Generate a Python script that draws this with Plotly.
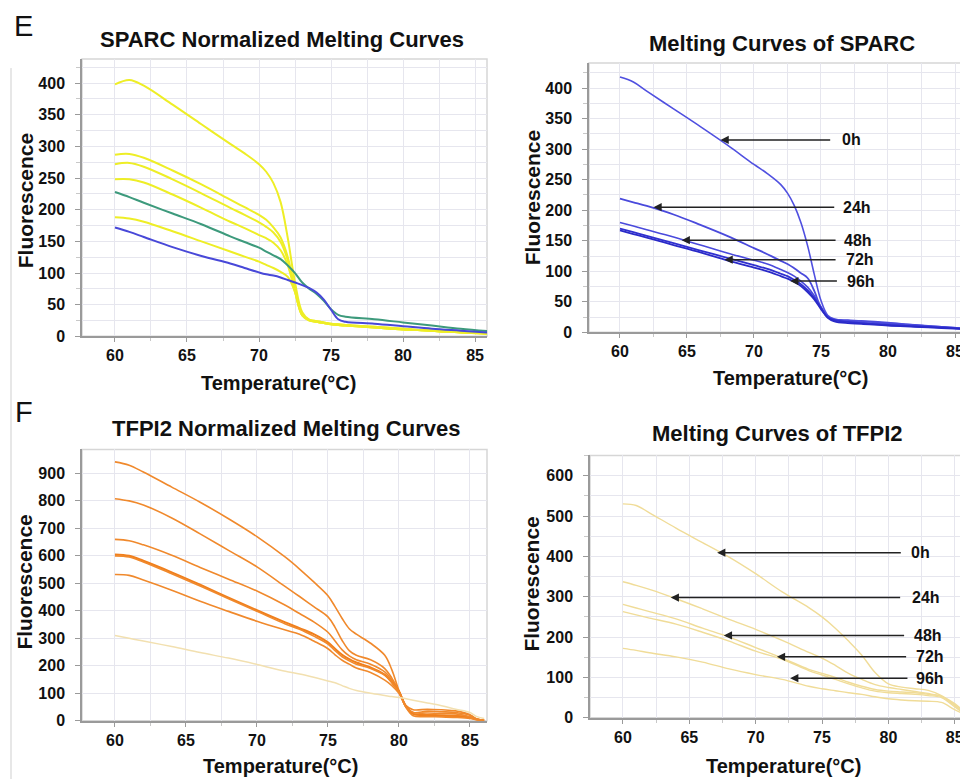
import plotly.graph_objects as go

W, H = 968, 780
# the page shows the figure 8px in and slightly shrunk vertically; place everything
# in window pixels and undo that offset/scale
OFF, SX, SY = 8, 1.0, 0.9874

# ---- E: SPARC normalized melting curves ----
sparc_norm_temp = [60, 61, 62, 64, 66, 68, 69, 70, 70.5, 71, 71.5, 72, 72.5, 73, 73.5, 74, 74.5, 75, 75.5, 76, 78, 80, 82, 84, 86]
sparc_norm_y1 = [398, 405, 396, 366, 335, 304, 289, 272, 260, 242, 212, 155, 85, 38, 26, 23, 21, 19, 18, 17, 14, 11, 9, 6, 4]
sparc_norm_y2 = [287, 288, 282, 262, 240, 216, 204, 192, 184, 172, 156, 125, 75, 35, 26, 24, 22, 20, 19, 18, 15, 12, 9, 7, 5]
sparc_norm_y3 = [272, 274, 268, 248, 226, 203, 192, 180, 173, 164, 149, 120, 72, 34, 26, 24, 22, 20, 19, 18, 15, 12, 9, 7, 5]
sparc_norm_y4 = [248, 248, 243, 224, 203, 181, 171, 160, 155, 148, 136, 112, 70, 33, 25, 23, 21, 19, 18, 17, 14, 11, 9, 6, 4]
sparc_norm_y5 = [188, 186, 181, 166, 150, 134, 126, 118, 113, 108, 102, 94, 70, 33, 25, 23, 21, 19, 18, 17, 14, 11, 9, 6, 4]
sparc_norm_green = [228, 220, 211, 194, 177, 158, 149, 140, 134, 128, 122, 112, 100, 85, 75, 67, 56, 43, 34, 31, 27, 22, 17, 12, 8]
sparc_norm_blue = [172, 165, 157, 141, 127, 115, 108, 101, 98, 96, 93, 89, 85, 81, 76, 69, 58, 42, 27, 23, 20, 16, 12, 9, 6]

# ---- E: melting curves of SPARC (time points) ----
sparc_temp = [60, 61, 62, 64, 66, 68, 70, 71, 72, 72.5, 73, 73.5, 74, 74.5, 75, 75.5, 76, 77, 78, 80, 82, 84, 86]
sparc_0h = [418, 410, 395, 366, 337, 307, 275, 260, 242, 228, 208, 180, 142, 95, 52, 28, 22, 20, 19, 16, 12, 9, 6]
sparc_24h = [219, 213, 207, 193, 176, 158, 138, 128, 117, 112, 105, 97, 89, 68, 40, 25, 21, 19, 18, 15, 12, 9, 6]
sparc_48h = [180, 174, 168, 156, 143, 130, 118, 112, 103, 98, 92, 84, 74, 60, 42, 26, 21, 18, 16, 13, 11, 8, 5]
sparc_72h = [170, 164, 158, 146, 134, 122, 110, 104, 96, 92, 86, 79, 69, 56, 40, 25, 20, 17, 15, 12, 10, 8, 5]
sparc_96h = [167, 161, 155, 143, 131, 118, 106, 100, 92, 88, 83, 76, 66, 54, 38, 24, 18, 15, 14, 11, 9, 7, 5]

# ---- F: TFPI2 normalized melting curves ----
tfpi_norm_temp = [60, 61, 62, 64, 66, 68, 70, 72, 73, 74, 75, 75.5, 76, 76.5, 77, 78, 79, 79.5, 80, 80.5, 81, 82, 83, 84, 85, 85.5, 86]
tfpi_norm_c1 = [942, 930, 905, 850, 795, 735, 670, 595, 552, 505, 455, 415, 372, 335, 315, 282, 238, 185, 110, 50, 25, 22, 21, 19, 14, 5, 2]
tfpi_norm_c2 = [808, 800, 785, 738, 680, 620, 560, 488, 452, 415, 378, 340, 292, 255, 238, 222, 190, 155, 108, 52, 30, 35, 33, 30, 20, 6, 2]
tfpi_norm_c3 = [660, 655, 640, 602, 558, 515, 472, 420, 390, 360, 322, 290, 258, 236, 222, 206, 178, 148, 108, 55, 40, 42, 40, 36, 22, 6, 2]
tfpi_norm_c4 = [605, 600, 582, 540, 495, 448, 402, 358, 337, 315, 285, 262, 240, 224, 212, 194, 168, 140, 106, 52, 25, 20, 18, 16, 12, 4, 2]
tfpi_norm_c5 = [600, 596, 578, 535, 490, 444, 398, 352, 333, 308, 279, 255, 233, 218, 206, 190, 165, 138, 105, 50, 30, 28, 27, 25, 15, 5, 2]
tfpi_norm_c6 = [532, 529, 512, 475, 435, 398, 362, 330, 315, 290, 262, 240, 220, 206, 192, 176, 148, 128, 100, 48, 18, 15, 14, 12, 8, 3, 1]
tfpi_norm_c7 = [310, 300, 290, 270, 248, 228, 205, 180, 170, 158, 145, 138, 128, 118, 110, 100, 92, 88, 85, 80, 75, 65, 55, 42, 30, 15, 8]

# ---- F: melting curves of TFPI2 (time points) ----
tfpi_temp = [60, 61, 62, 64, 66, 68, 70, 72, 74, 75, 76, 77, 78, 79, 80, 81, 82, 83, 84, 85, 86]
tfpi_0h = [530, 526, 508, 470, 434, 398, 357, 312, 273, 250, 222, 190, 155, 112, 84, 76, 72, 68, 55, 32, 5]
tfpi_24h = [337, 328, 318, 295, 270, 244, 219, 192, 162, 148, 130, 110, 95, 82, 75, 70, 65, 60, 53, 35, 5]
tfpi_48h = [281, 272, 263, 245, 222, 200, 174, 148, 120, 110, 100, 88, 78, 70, 66, 64, 62, 58, 53, 30, 5]
tfpi_72h = [263, 255, 247, 232, 212, 190, 165, 145, 117, 106, 95, 84, 74, 66, 62, 60, 58, 55, 50, 27, 4]
tfpi_96h = [172, 167, 161, 151, 138, 121, 107, 95, 78, 72, 67, 62, 58, 52, 47, 44, 42, 41, 38, 20, 4]

# arrow labels (head x, head y, tail x, text x)
time_labels = ["0h", "24h", "48h", "72h", "96h"]
sparc_head_x = [67.5, 62.5, 64.6, 67.8, 72.7]
sparc_head_y = [315, 205, 151, 119, 84]
sparc_tail_x = [75.8, 76.1, 76.2, 76.2, 76.3]
sparc_text_x = [76.45, 76.5, 76.6, 76.7, 76.8]
tfpi_head_x = [67.1, 63.6, 67.6, 71.6, 72.6]
tfpi_head_y = [409, 298, 204, 151, 98]
tfpi_tail_x = [81.05, 81.0, 81.3, 81.45, 81.55]
tfpi_text_x = [81.55, 81.6, 81.75, 81.9, 81.95]

FONT = "Liberation Sans, Arial, sans-serif"
GRID = "#e6e6ee"
AXIS = "#9a9a9a"


def fx(p):
    return min(1, max(0, (p - OFF) / SX / W))


def fy(p):
    return min(1, max(0, 1 - (p - OFF) / SY / H))


fig = go.Figure()


def add_lines(temp, series, colors, widths, xa, ya):
    for s, c, w in zip(series, colors, widths):
        fig.add_trace(go.Scatter(x=temp, y=s, mode="lines", xaxis=xa, yaxis=ya,
                                 line=dict(color=c, width=w, shape="spline", smoothing=1.0),
                                 showlegend=False, hoverinfo="skip"))


YEL = "#eeee26"
add_lines(sparc_norm_temp,
          [sparc_norm_y1, sparc_norm_y2, sparc_norm_y3, sparc_norm_y4, sparc_norm_y5, sparc_norm_green, sparc_norm_blue],
          [YEL, YEL, YEL, YEL, YEL, "#3d9a7c", "#4848d8"], [2, 2, 2, 2, 2, 2, 2], "x", "y")
add_lines(sparc_temp, [sparc_0h, sparc_24h, sparc_48h, sparc_72h, sparc_96h],
          ["#5050e0", "#4a4adc", "#4a4adc", "#3030d0", "#2a2ac8"], [1.6, 1.8, 1.6, 1.8, 1.8], "x2", "y2")
ORA = "#f0892c"
add_lines(tfpi_norm_temp,
          [tfpi_norm_c1, tfpi_norm_c2, tfpi_norm_c3, tfpi_norm_c4, tfpi_norm_c5, tfpi_norm_c6, tfpi_norm_c7],
          [ORA, ORA, ORA, "#f07f1c", ORA, ORA, "#f2e0b0"], [1.6, 1.6, 1.6, 2, 1.6, 1.6, 1.5], "x3", "y3")
PALE = "#f0dc98"
add_lines(tfpi_temp, [tfpi_0h, tfpi_24h, tfpi_48h, tfpi_72h, tfpi_96h],
          [PALE] * 5, [1.4] * 5, "x4", "y4")

tickfont = dict(family=FONT, size=16, color="#111", weight="bold")


def xaxis(dom, rng, anchor):
    return dict(domain=[fx(dom[0]), fx(dom[1])], range=rng, anchor=anchor, tick0=60, dtick=5,
                showgrid=True, gridcolor=GRID, zeroline=False, showline=True, linecolor=AXIS, linewidth=1.5,
                ticks="outside", ticklen=4, tickcolor=AXIS, tickfont=tickfont, ticklabelstandoff=0,
                ticklabeloverflow="allow",
                minor=dict(dtick=2.5, showgrid=True, gridcolor=GRID, ticks="outside", ticklen=3, tickcolor="#c8c8c8"))


def yaxis(dom, rng, anchor, dtick, minor):
    return dict(domain=[fy(dom[1]), fy(dom[0])], range=rng, anchor=anchor, tick0=0, dtick=dtick,
                showgrid=True, gridcolor=GRID, zeroline=False, showline=True, linecolor=AXIS, linewidth=1.5,
                ticks="outside", ticklen=5, tickcolor=AXIS, tickfont=tickfont, ticklabelstandoff=7,
                minor=dict(dtick=minor, showgrid=True, gridcolor=GRID, ticks="outside", ticklen=4, tickcolor="#c8c8c8"))


# plot areas in window pixels; right panels run to the window edge
fig.update_layout(
    width=W, height=H, margin=dict(l=0, r=0, t=0, b=0), autosize=False,
    paper_bgcolor="white", plot_bgcolor="white",
    xaxis=xaxis((82, 487), [57.71, 85.83], "y"),
    yaxis=yaxis((59, 336), [0, 438], "x", 50, 25),
    xaxis2=xaxis((589, 968), [57.69, 85.97], "y2"),
    yaxis2=yaxis((63, 332), [0, 441], "x2", 50, 25),
    xaxis3=xaxis((82, 487), [57.68, 86.2], "y3"),
    yaxis3=yaxis((449, 720), [0, 987], "x3", 100, 100),
    xaxis4=xaxis((590, 968), [57.52, 86.0], "y4"),
    yaxis4=yaxis((455, 717), [0, 650], "x4", 100, 50),
)

# light frame around each plot area
for xa, ya in [("x", "y"), ("x2", "y2"), ("x3", "y3"), ("x4", "y4")]:
    fig.add_shape(type="rect", xref=xa + " domain", yref=ya + " domain", x0=0, x1=1, y0=0, y1=1,
                  line=dict(color="#d6d6d6", width=1.5), layer="below")

# thin panel border on the far left
fig.add_shape(type="line", xref="paper", yref="paper", x0=fx(11), x1=fx(11), y0=fy(780), y1=fy(68),
              line=dict(color="#cfcfcf", width=1))


def label(text, x, y, size, weight="bold", angle=0, yanchor="middle"):
    fig.add_annotation(text=text, xref="paper", yref="paper", x=fx(x), y=fy(y), showarrow=False,
                       xanchor="center", yanchor=yanchor, textangle=angle,
                       font=dict(family=FONT, size=size, color="#111", weight=weight))


label("E", 23, 8, 29, weight="normal", yanchor="top")
label("F", 24, 412, 29, weight="normal")
label("SPARC Normalized Melting Curves", 282, 39, 22)
label("Melting Curves of SPARC", 782, 43, 22)
label("TFPI2 Normalized Melting Curves", 286, 428, 22)
label("Melting Curves of TFPI2", 777, 433, 22)
for x, y in [(278, 383), (790, 378), (280, 765), (783, 765)]:
    label("Temperature(°C)", x, y, 20)
for x, y in [(25, 201), (532, 198), (25, 582), (532, 584)]:
    label("Fluorescence", x, y, 21, angle=-90)

# arrows pointing at each time-point curve
for xa, ya, hx, hy, tx, lx in [("x2", "y2", sparc_head_x, sparc_head_y, sparc_tail_x, sparc_text_x),
                               ("x4", "y4", tfpi_head_x, tfpi_head_y, tfpi_tail_x, tfpi_text_x)]:
    for lab, a, b, c, d in zip(time_labels, hx, hy, tx, lx):
        fig.add_annotation(x=a, y=b, ax=c, ay=b, xref=xa, yref=ya, axref=xa, ayref=ya, text="",
                           showarrow=True, arrowhead=2, arrowsize=1.1, arrowwidth=1.5, arrowcolor="#222")
        fig.add_annotation(x=d, y=b, xref=xa, yref=ya, text=lab, showarrow=False, xanchor="left",
                           yanchor="middle", font=dict(family=FONT, size=16, color="#111", weight="bold"))

fig.write_html("out.html")
